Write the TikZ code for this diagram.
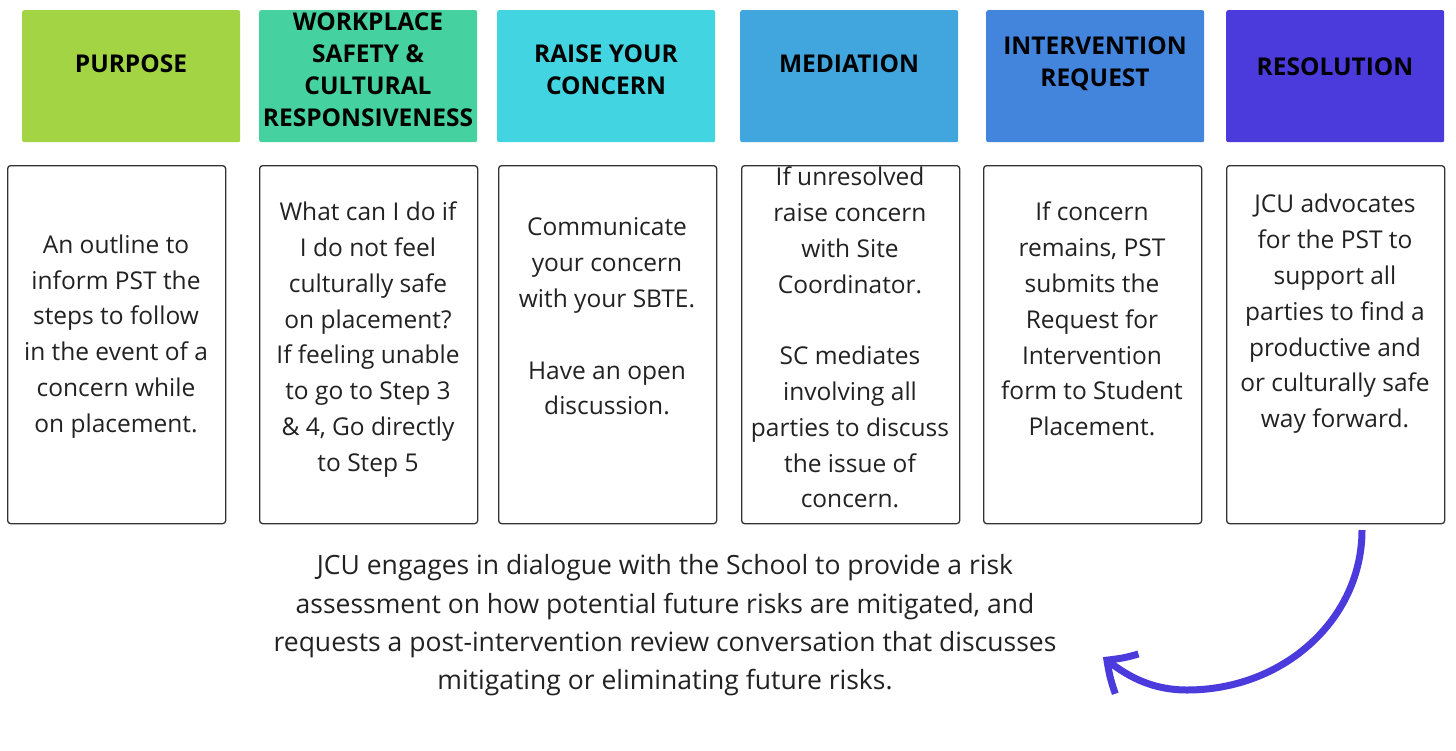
\documentclass[tikz,border=0pt]{standalone}
\usepackage{fontspec}
\setmainfont{Open Sans}
\usetikzlibrary{arrows.meta,bending}
\definecolor{cA}{HTML}{A2D444}
\definecolor{cB}{HTML}{45D1A0}
\definecolor{cC}{HTML}{42D4E0}
\definecolor{cD}{HTML}{41A6DE}
\definecolor{cE}{HTML}{4384DC}
\definecolor{cF}{HTML}{4B3ADC}
\definecolor{boxgray}{HTML}{333333}
\definecolor{txt}{HTML}{222222}
\begin{document}
\begin{tikzpicture}[x=1pt,y=-1pt,
  head/.style={rectangle, rounded corners=2pt, minimum width=218pt, minimum height=132pt, inner sep=0pt, anchor=north west},
  body/.style={rectangle, draw=boxgray, line width=1.3pt, rounded corners=3pt, minimum width=218pt, minimum height=358pt, anchor=north west, inner sep=0pt},
  htext/.style={font=\fontsize{24.5}{32}\selectfont\bfseries, align=center, text=black, inner sep=0pt},
  btext/.style={font=\fontsize{24.5}{35.8}\selectfont, align=center, text=txt, inner sep=0pt},
  ftext/.style={font=\fontsize{26.5}{38.3}\selectfont, align=center, text=txt, inner sep=0pt},
  arrowline/.style={draw=cF, line width=7pt, -{Straight Barb[length=24pt, width=46pt, bend]}}]
\path[use as bounding box, fill=white] (0,0) rectangle (1456,750);
% header boxes
\node[head, fill=cA] (h1) at (22,10) {};
\node[head, fill=cB] (h2) at (259,10) {};
\node[head, fill=cC] (h3) at (497,10) {};
\node[head, fill=cD] (h4) at (740,10) {};
\node[head, fill=cE] (h5) at (986,10) {};
\node[head, fill=cF] (h6) at (1226,10) {};
\node[htext] (ht1) at (131,64) {PURPOSE};
\node[htext] (ht2) at (368,69.5) {WORKPLACE\\SAFETY \&\\CULTURAL\\RESPONSIVENESS};
\node[htext] (ht3) at (606,70) {RAISE YOUR\\CONCERN};
\node[htext] (ht4) at (849,64) {MEDIATION};
\node[htext] (ht5) at (1095,64) {INTERVENTION\\REQUEST};
\node[htext] (ht6) at (1335,67) {RESOLUTION};
% body boxes
\node[body] (b1) at (7,165) {};
\node[body] (b2) at (259,165) {};
\node[body] (b3) at (498,165) {};
\node[body] (b4) at (741,165) {};
\node[body] (b5) at (983,165) {};
\node[body] (b6) at (1226,165) {};
\node[btext] (bt1) at (116,336.5) {An outline to\\inform PST the\\steps to follow\\in the event of a\\concern while\\on placement.};
\node[btext] (bt2) at (368,339.5) {What can I do if\\I do not feel\\culturally safe\\on placement?\\If feeling unable\\to go to Step 3\\\& 4, Go directly\\to Step 5};
\node[btext] (bt3) at (607,316.5) {Communicate\\your concern\\with your SBTE.\\[35.8pt]Have an open\\discussion.};
\node[btext] (bt4) at (850,337.5) {If unresolved\\raise concern\\with Site\\Coordinator.\\[35.8pt]SC mediates\\involving all\\parties to discuss\\the issue of\\concern.};
\node[btext] (bt5) at (1092,319) {If concern\\remains, PST\\submits the\\Request for\\Intervention\\form to Student\\Placement.};
\node[btext] (bt6) at (1335,314) {JCU advocates\\for the PST to\\support all\\parties to find a\\productive and\\or culturally safe\\way forward.};
% footer text
\node[ftext] (ft) at (665,625.5) {JCU engages in dialogue with the School to provide a risk\\assessment on how potential future risks are mitigated, and\\requests a post-intervention review conversation that discusses\\mitigating or eliminating future risks.};
% arrow
\coordinate (as) at (1362,530);
\coordinate (am) at (1187,690);
\coordinate (ae) at (1103,657);
\draw[arrowline] (as) .. controls (1362,619) and (1284,690) .. (am) .. controls (1150,690) and (1125,675) .. (ae);
\end{tikzpicture}
\end{document}
